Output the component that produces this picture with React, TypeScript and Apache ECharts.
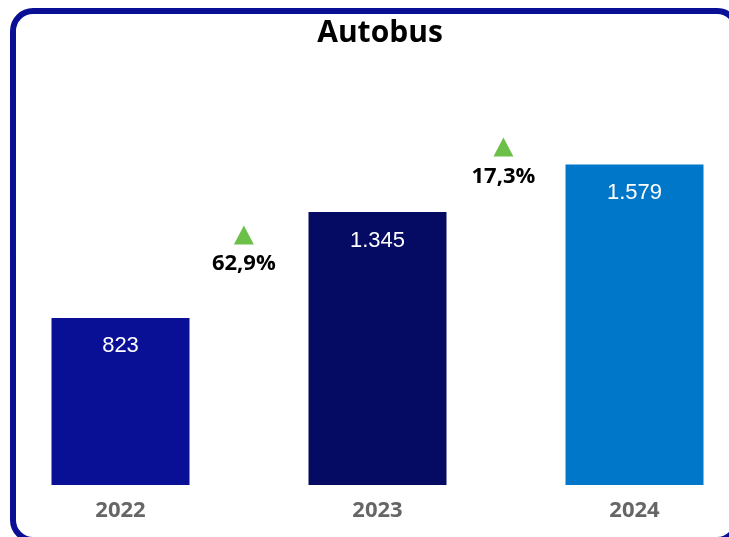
import React, { useEffect, useRef } from "react";
import * as echarts from "echarts";

const categories = ["2022", "2023", "2024"];
const values = [823, 1345, 1579];
const barColors = ["#0a1096", "#050b62", "#0077c8"];
const changeLabels = ["62,9%", "17,3%"];
const changePositions = [0.48, 1.49];
const changeLevels = [1232, 1665];

const fmt = (v: number) => v.toString().replace(/\B(?=(\d{3})+(?!\d))/g, ".");

export default function App() {
  const ref = useRef<HTMLDivElement>(null);
  useEffect(() => {
    if (!ref.current) return;
    const chart = echarts.init(ref.current, null, { renderer: "svg" });
    const font = "'Open Sans', 'Noto Sans', sans-serif";
    const arial = "'Liberation Sans', Arial, sans-serif";
    chart.setOption({
      animation: false,
      textStyle: { fontFamily: font },
      title: {
        text: "Autobus",
        left: 375,
        textAlign: "center",
        top: 10,
        textStyle: { fontSize: 30, fontWeight: "bold", color: "#000", fontFamily: font },
      },
      graphic: [
        {
          type: "rect",
          shape: { x: 13, y: 11, width: 724, height: 529, r: 20 },
          style: { fill: "none", stroke: "#0a1096", lineWidth: 6 },
          z: 100,
        },
      ],
      grid: { left: -8, width: 771, top: 0, bottom: 52, outerBoundsMode: "none", containLabel: false },
      xAxis: [
        {
          type: "category",
          data: categories,
          axisLine: { show: false },
          axisTick: { show: false },
          axisLabel: { fontSize: 22, fontWeight: "bold", color: "#666", margin: 12, fontFamily: font },
        },
        { type: "value", min: -0.5, max: 2.5, show: false },
      ],
      yAxis: { type: "value", min: 0, max: 2390, show: false, splitLine: { show: false } },
      series: [
        {
          type: "bar",
          barWidth: 138,
          data: values.map((v, i) => ({ value: v, itemStyle: { color: barColors[i] } })),
          label: {
            show: true,
            position: "insideTop",
            distance: 16,
            color: "#fff",
            fontSize: 22,
            fontFamily: arial,
            formatter: (p: any) => fmt(p.value),
          },
        },
        {
          type: "scatter",
          xAxisIndex: 1,
          symbol: "triangle",
          symbolSize: [20, 19],
          itemStyle: { color: "#6cc04a", opacity: 1 },
          data: changePositions.map((x, i) => [x, changeLevels[i]]),
          label: {
            show: true,
            position: "bottom",
            distance: 6,
            color: "#000",
            opacity: 1,
            fontSize: 22,
            fontWeight: "bold",
            fontFamily: font,
            formatter: (p: any) => changeLabels[p.dataIndex],
          },
        },
      ],
    });
    return () => chart.dispose();
  }, []);
  return <div ref={ref} style={{ position: "fixed", left: 0, top: 0, width: 729, height: 537 }} />;
}
